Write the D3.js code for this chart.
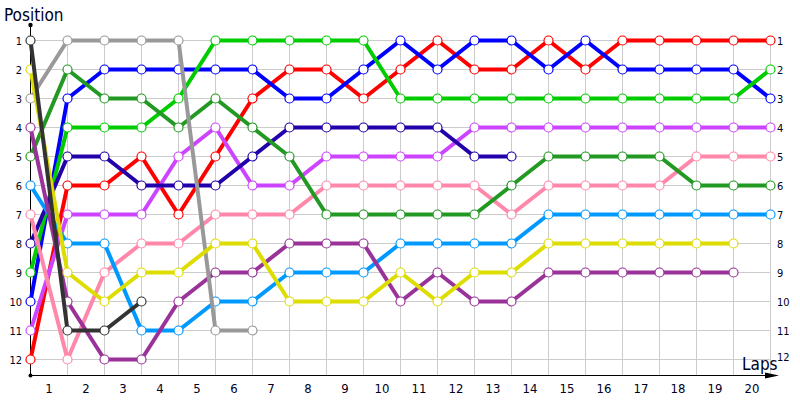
<!DOCTYPE html>
<html>
<head>
<meta charset="utf-8">
<script src="https://cdn.jsdelivr.net/npm/d3@7"></script>
<style>
  body { margin: 0; background: #fff; }
  text { font-family: "DejaVu Sans Condensed", "DejaVu Sans", sans-serif; fill: #000022; }
</style>
</head>
<body>
<svg></svg>
<script>
var width = 800;
var height = 400;

// lap numbers (0 = starting grid)
var laps = d3.range(0, 21);
var positions = d3.range(1, 13);

// position of each car on every lap, starting from the grid
var red     = [12,6,6,5,7,5,3,2,2,3,2,1,2,2,1,2,1,1,1,1,1];
var blue    = [10,3,2,2,2,2,2,3,3,2,1,2,1,1,2,1,2,2,2,2,3];
var green   = [9,4,4,4,3,1,1,1,1,1,3,3,3,3,3,3,3,3,3,3,2];
var violet  = [11,7,7,7,5,4,6,6,5,5,5,5,4,4,4,4,4,4,4,4,4];
var pink    = [7,12,9,8,8,7,7,7,6,6,6,6,6,7,6,6,6,6,5,5,5];
var dkgreen = [5,2,3,3,4,3,4,5,7,7,7,7,7,6,5,5,5,5,6,6,6];
var ltblue  = [6,8,8,11,11,10,10,9,9,9,8,8,8,8,7,7,7,7,7,7,7];
var yellow  = [2,9,10,9,9,8,8,10,10,10,9,10,9,9,8,8,8,8,8,8];
var purple  = [4,10,12,12,10,9,9,8,8,8,10,9,10,10,9,9,9,9,9,9];
var navy    = [8,5,5,6,6,6,5,4,4,4,4,4,5,5];
var grey    = [3,1,1,1,1,11,11];
var black   = [1,11,11,10];

var cars = ["red","blue","green","violet","pink","dkgreen","ltblue","yellow","purple","navy","grey","black"];
var series = [red, blue, green, violet, pink, dkgreen, ltblue, yellow, purple, navy, grey, black];

var colorScale = d3.scaleOrdinal()
    .domain(cars)
    .range(["#ff0000","#0000ff","#00cc00","#cc44ff","#ff88aa","#229922",
            "#0099ff","#dddd00","#993399","#2200aa","#999999","#333333"]);

var x = d3.scaleLinear().domain([0, 20]).range([30.5, 770.5]);
var y = d3.scaleLinear().domain([1, 12]).range([40.5, 359.5]);
var axisY = 375.5;

var svg = d3.select("svg")
    .attr("width", width)
    .attr("height", height);

// grid
svg.append("g")
  .selectAll("line")
  .data(laps.slice(1))
  .enter()
  .append("line")
    .attr("x1", d => x(d)).attr("x2", d => x(d))
    .attr("y1", y(1)).attr("y2", axisY)
    .attr("stroke", "#cccccc");

svg.append("g")
  .selectAll("line")
  .data(positions)
  .enter()
  .append("line")
    .attr("x1", x(0)).attr("x2", x(20))
    .attr("y1", d => y(d)).attr("y2", d => y(d))
    .attr("stroke", "#cccccc");

// axes
svg.append("line")
    .attr("x1", x(0)).attr("x2", x(0))
    .attr("y1", 25).attr("y2", axisY)
    .attr("stroke", "#000");
svg.append("circle").attr("cx", x(0)).attr("cy", 25).attr("r", 2.2).attr("fill", "#000");
svg.append("circle").attr("cx", x(0)).attr("cy", axisY).attr("r", 2).attr("fill", "#000");

svg.append("line")
    .attr("x1", x(0)).attr("x2", 770)
    .attr("y1", axisY).attr("y2", axisY)
    .attr("stroke", "#000");
svg.append("path")
    .attr("d", "M765," + (axisY - 3) + "L779," + axisY + "L765," + (axisY + 3) + "Z")
    .attr("fill", "#000");

// labels
svg.append("g")
  .selectAll("text")
  .data(positions)
  .enter()
  .append("text")
    .attr("x", 22)
    .attr("y", d => y(d) + 4)
    .attr("text-anchor", "end")
    .style("font-size", "11px")
    .text(d => d);

svg.append("g")
  .selectAll("text")
  .data(positions)
  .enter()
  .append("text")
    .attr("x", 777)
    .attr("y", d => y(d) + 4 - (d === 12 ? 3 : 0))
    .style("font-size", "11px")
    .text(d => d);

svg.append("g")
  .selectAll("text")
  .data(laps.slice(1))
  .enter()
  .append("text")
    .attr("x", d => (x(d - 1) + x(d)) / 2)
    .attr("y", 393)
    .attr("text-anchor", "middle")
    .style("font-size", "13px")
    .text(d => d);

svg.append("text").attr("x", 4).attr("y", 21).style("font-size", "17px").text("Position");
svg.append("text").attr("x", 742).attr("y", 370).style("font-size", "17px").text("Laps");

// one line + markers for each car, the back of the grid drawn first
var line = d3.line()
    .x((d, i) => x(i))
    .y(d => y(d));

var order = d3.range(series.length).sort((a, b) => series[b][0] - series[a][0]);

order.forEach(function(k) {
  var c = colorScale(cars[k]);
  var g = svg.append("g");
  g.append("path")
    .datum(series[k])
    .attr("d", line)
    .attr("fill", "none")
    .attr("stroke", c)
    .attr("stroke-width", 4)
    .attr("stroke-linejoin", "round");
  g.selectAll("circle")
    .data(series[k])
    .enter()
    .append("circle")
      .attr("cx", (d, i) => x(i))
      .attr("cy", d => y(d))
      .attr("r", 4.5)
      .attr("fill", "#fff")
      .attr("stroke", c)
      .attr("stroke-width", 1.2);
});
</script>
</body>
</html>
